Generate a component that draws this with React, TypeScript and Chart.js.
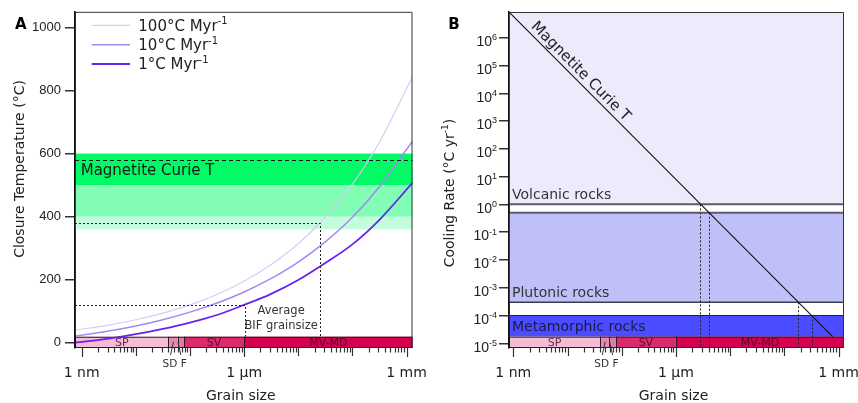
import React, { useEffect, useRef } from 'react';
import { Chart, registerables } from 'chart.js';

Chart.register(...registerables);

const FONT = '"DejaVu Sans", sans-serif';
const NUMFONT = '"Liberation Sans", Arial, sans-serif';

// ---------------- Panel A data ----------------
const grainSizeNm = [0.75, 3.16, 10, 31.6, 100, 316, 1000, 3162, 10000, 31623, 100000, 316228, 1300000];
const coolingRatesMyr = [100, 10, 1];
const closureT100 = [40, 56, 73, 94, 120, 153, 195, 248, 314, 398, 503, 636, 845];
const closureT10 = [21, 37, 53, 73, 97, 126, 161, 204, 256, 320, 398, 495, 640];
const closureT1 = [0, 13, 27, 44, 64, 88, 120, 155, 199, 253, 312, 390, 508];
const seriesColors = ['#d9cbf8', '#a688f2', '#6a22f0'];
const seriesWidths = [1.2, 1.5, 1.8];

const yTicksA = [0, 200, 400, 600, 800, 1000];
const yMinA = -16.7;
const yMaxA = 1049.6;
const xMinA = 0.752;
const xMaxA = 1.29e6;

const curieBandLow = [360, 400, 500];
const curieBandHigh = [400, 500, 600];
const curieBandColors = ['#c4fddc', '#82fdb5', '#00fb66'];
const curieTemp = 580;
const bifGrainNm = [1060, 25000];
const bifTemps = [120, 380];
const domainBarTopA = 19;

// ---------------- shared grain-size domains ----------------
const domainNames = ['SP', 'SD', 'F', 'SV', 'MV-MD'];
const domainUpperNm = [40, 59, 78, 1000];
const domainColors = ['#f4bdd5', '#e68ab4', '#e27aa9', '#dc2a6f', '#d5004f'];

const xDecades = [1, 10, 100, 1000, 10000, 100000, 1000000];
const xMinorMult = [2, 3, 4, 5, 6, 7, 8, 9];
const xLabelValues = [1, 1000, 1000000];
const xLabels = ['1 nm', '1 µm', '1 mm'];

// ---------------- Panel B data ----------------
const rateExponents = [-5, -4, -3, -2, -1, 0, 1, 2, 3, 4, 5, 6];
const yMinB = 6.76e-6;
const yMaxB = 8.41e6;
const xMinB = 0.833;
const xMaxB = 1.262e6;

const curieLineNm = [0.833, 780000];
const curieLineRate = [8.41e6, 1.73e-5];
const curieLabelNm = 13.4;

const rockNames = ['Volcanic rocks', 'Plutonic rocks', 'Metamorphic rocks'];
const rockLow = [1, 3e-4, 1.73e-5];
const rockHigh = [1e7, 0.5, 1e-4];
const rockColors = ['#ebebfc', '#c0c0f9', '#4b4bff'];
const rockTextColors = ['#333338', '#333338', '#1a1a48'];
const rockLineValues = [1, 0.5, 3e-4, 1e-4];
const rockLineColors = ['#5c5c6c', '#5c5c6c', '#3c3c4c', '#222228'];
const rockLineWidths = [2, 1.8, 1.4, 1];
const crossingNm = [2750, 4130, 178000, 325000];
const crossingRate = [1, 0.5, 3e-4, 1e-4];
const domainBarTopB = 1.73e-5;

// ---------------- helpers ----------------
type Seg = { t: string; sup?: boolean };

function drawRich(ctx: any, segs: Seg[], x: number, y: number, size: number, family: string, color: string, align: string) {
  const supSize = Math.round(size * 0.66);
  const base = `${size}px ${family}`;
  const sup = `${supSize}px ${family}`;
  let w = 0;
  segs.forEach((s) => {
    ctx.font = s.sup ? sup : base;
    w += ctx.measureText(s.t).width;
  });
  let cx = align === 'left' ? x : align === 'center' ? x - w / 2 : x - w;
  ctx.textAlign = 'left';
  ctx.textBaseline = 'alphabetic';
  ctx.fillStyle = color;
  segs.forEach((s) => {
    ctx.font = s.sup ? sup : base;
    ctx.fillText(s.t, cx, s.sup ? y - size * 0.42 : y);
    cx += ctx.measureText(s.t).width;
  });
}

function drawDomainBar(ctx: any, xs: any, ca: any, top: number) {
  const bottom = ca.bottom;
  const edges = [ca.left, ...domainUpperNm.map((v) => xs.getPixelForValue(v)), ca.right];
  ctx.save();
  for (let i = 0; i < domainNames.length; i++) {
    ctx.fillStyle = domainColors[i];
    ctx.fillRect(edges[i], top, edges[i + 1] - edges[i], bottom - top);
  }
  ctx.strokeStyle = '#2b1a22';
  ctx.lineWidth = 1;
  ctx.strokeRect(ca.left + 0.5, top + 0.5, ca.right - ca.left - 1, bottom - top - 1);
  for (let i = 1; i < edges.length - 1; i++) {
    const px = Math.round(edges[i]) + 0.5;
    ctx.beginPath();
    ctx.moveTo(px, top);
    ctx.lineTo(px, bottom);
    ctx.stroke();
  }
  ctx.font = `11px ${FONT}`;
  ctx.fillStyle = 'rgba(60,0,30,0.8)';
  ctx.textAlign = 'center';
  ctx.textBaseline = 'middle';
  [0, 3, 4].forEach((i) => {
    ctx.fillText(domainNames[i], (edges[i] + edges[i + 1]) / 2, (top + bottom) / 2 + 0.5);
  });
  const cSD = (edges[1] + edges[2]) / 2;
  const cF = (edges[2] + edges[3]) / 2;
  ctx.strokeStyle = '#333';
  ctx.beginPath();
  ctx.moveTo(cSD + 0.5, top + 5);
  ctx.lineTo(cSD - 2.5, bottom + 7);
  ctx.moveTo(cF - 3, top + 5);
  ctx.lineTo(cF, bottom + 7);
  ctx.stroke();
  ctx.fillStyle = '#333';
  ctx.font = `10.5px ${FONT}`;
  ctx.textBaseline = 'alphabetic';
  ctx.textAlign = 'right';
  ctx.fillText(domainNames[1], cSD + 4.3, 367);
  ctx.textAlign = 'left';
  ctx.fillText(domainNames[2], cF, 367);
  ctx.restore();
}

function drawXAxis(ctx: any, xs: any, ca: any) {
  ctx.save();
  ctx.strokeStyle = '#333';
  ctx.lineWidth = 1.2;
  const y0 = ca.bottom;
  const tick = (v: number, len: number) => {
    const px = Math.round(xs.getPixelForValue(v)) + 0.5;
    if (px < ca.left || px > ca.right) return;
    ctx.beginPath();
    ctx.moveTo(px, y0);
    ctx.lineTo(px, y0 + len);
    ctx.stroke();
  };
  xDecades.forEach((d) => {
    tick(d, xLabelValues.includes(d) ? 9 : 8);
    if (d < 1000000) xMinorMult.forEach((m) => tick(d * m, 4.5));
  });
  ctx.fillStyle = '#222';
  ctx.font = `14px ${FONT}`;
  ctx.textAlign = 'center';
  ctx.textBaseline = 'alphabetic';
  xLabelValues.forEach((v, i) => ctx.fillText(xLabels[i], xs.getPixelForValue(v), 377));
  ctx.fillText('Grain size', (ca.left + ca.right) / 2 - 3, 400);
  ctx.restore();
}

function drawFrame(ctx: any, ca: any) {
  ctx.save();
  ctx.strokeStyle = '#333';
  ctx.lineWidth = 1;
  ctx.beginPath();
  ctx.moveTo(ca.left, ca.top + 0.5);
  ctx.lineTo(ca.right - 0.5, ca.top + 0.5);
  ctx.lineTo(ca.right - 0.5, ca.bottom);
  ctx.stroke();
  ctx.strokeStyle = '#111';
  ctx.lineWidth = 1.5;
  ctx.beginPath();
  ctx.moveTo(ca.left, ca.top);
  ctx.lineTo(ca.left, ca.bottom);
  ctx.stroke();
  ctx.restore();
}

function drawVerticalTitle(ctx: any, segs: Seg[], cx: number, cy: number) {
  ctx.save();
  ctx.translate(cx, cy);
  ctx.rotate(-Math.PI / 2);
  drawRich(ctx, segs, 0, 5, 14, FONT, '#222', 'center');
  ctx.restore();
}

function drawPanelLetter(ctx: any, letter: string, x: number) {
  ctx.save();
  ctx.font = `bold 15px ${FONT}`;
  ctx.fillStyle = '#000';
  ctx.textAlign = 'left';
  ctx.textBaseline = 'alphabetic';
  ctx.fillText(letter, x, 28.5);
  ctx.restore();
}

// ---------------- Panel A plugin ----------------
const panelAPlugin = {
  id: 'panelA',
  beforeDatasetsDraw(chart: any) {
    const { ctx, chartArea: ca, scales } = chart;
    const xs = scales.x;
    const ys = scales.y;
    ctx.save();
    curieBandLow.forEach((lo, i) => {
      const t = ys.getPixelForValue(curieBandHigh[i]);
      const b = ys.getPixelForValue(lo);
      ctx.fillStyle = curieBandColors[i];
      ctx.fillRect(ca.left, t, ca.right - ca.left, b - t);
    });
    ctx.restore();
    drawDomainBar(ctx, xs, ca, ys.getPixelForValue(domainBarTopA));
  },
  afterDatasetsDraw(chart: any) {
    const { ctx, chartArea: ca, scales } = chart;
    const xs = scales.x;
    const ys = scales.y;
    const barTop = ys.getPixelForValue(domainBarTopA);
    ctx.save();
    ctx.strokeStyle = '#111';
    ctx.lineWidth = 1;
    ctx.setLineDash([4, 3]);
    const yc = Math.round(ys.getPixelForValue(curieTemp)) + 0.5;
    ctx.beginPath();
    ctx.moveTo(ca.left, yc);
    ctx.lineTo(ca.right, yc);
    ctx.stroke();
    ctx.strokeStyle = '#222';
    ctx.setLineDash([2, 2]);
    bifGrainNm.forEach((g, i) => {
      const px = Math.round(xs.getPixelForValue(g)) + 0.5;
      const py = Math.round(ys.getPixelForValue(bifTemps[i])) + 0.5;
      ctx.beginPath();
      ctx.moveTo(ca.left, py);
      ctx.lineTo(px, py);
      ctx.lineTo(px, barTop);
      ctx.stroke();
    });
    ctx.setLineDash([]);
    // Curie label
    ctx.fillStyle = '#1a1a1a';
    ctx.font = `15px ${FONT}`;
    ctx.textAlign = 'left';
    ctx.textBaseline = 'alphabetic';
    ctx.fillText('Magnetite Curie T', ca.left + 5.7, ys.getPixelForValue(curieBandHigh[2]) + 21);
    // BIF label
    const bx = (xs.getPixelForValue(bifGrainNm[0]) + xs.getPixelForValue(bifGrainNm[1])) / 2 - 1.5;
    ctx.fillStyle = '#333';
    ctx.font = `11.5px ${FONT}`;
    ctx.textAlign = 'center';
    ctx.fillText('Average', bx, 313.5);
    ctx.fillText('BIF grainsize', bx, 328.5);
    // legend
    chart.data.datasets.forEach((ds: any, i: number) => {
      const ly = 25.3 + i * 19.35;
      ctx.strokeStyle = ds.borderColor;
      ctx.lineWidth = ds.borderWidth;
      ctx.beginPath();
      ctx.moveTo(ca.left + 16.7, ly);
      ctx.lineTo(ca.left + 55, ly);
      ctx.stroke();
      drawRich(ctx, [{ t: `${coolingRatesMyr[i]}°C Myr` }, { t: '-1', sup: true }], ca.left + 63.3, ly + 5.4, 15, FONT, '#222', 'left');
    });
    ctx.restore();
  },
  afterDraw(chart: any) {
    const { ctx, chartArea: ca, scales } = chart;
    drawFrame(ctx, ca);
    drawXAxis(ctx, scales.x, ca);
    drawVerticalTitle(ctx, [{ t: 'Closure Temperature (°C)' }], 19, 169);
    drawPanelLetter(ctx, 'A', 15);
  },
};

// ---------------- Panel B plugin ----------------
const panelBPlugin = {
  id: 'panelB',
  beforeDatasetsDraw(chart: any) {
    const { ctx, chartArea: ca, scales } = chart;
    const xs = scales.x;
    const ys = scales.y;
    ctx.save();
    rockNames.forEach((_, i) => {
      const t = Math.max(ca.top, ys.getPixelForValue(rockHigh[i]));
      const b = ys.getPixelForValue(rockLow[i]);
      ctx.fillStyle = rockColors[i];
      ctx.fillRect(ca.left, t, ca.right - ca.left, b - t);
    });
    rockLineValues.forEach((v, i) => {
      const py = ys.getPixelForValue(v);
      ctx.strokeStyle = rockLineColors[i];
      ctx.lineWidth = rockLineWidths[i];
      ctx.beginPath();
      ctx.moveTo(ca.left, py);
      ctx.lineTo(ca.right, py);
      ctx.stroke();
    });
    ctx.restore();
    drawDomainBar(ctx, xs, ca, ys.getPixelForValue(domainBarTopB));
  },
  afterDatasetsDraw(chart: any) {
    const { ctx, chartArea: ca, scales } = chart;
    const xs = scales.x;
    const ys = scales.y;
    ctx.save();
    ctx.strokeStyle = '#222';
    ctx.lineWidth = 1;
    ctx.setLineDash([2, 2]);
    crossingNm.forEach((g, i) => {
      const px = Math.round(xs.getPixelForValue(g)) + 0.5;
      ctx.beginPath();
      ctx.moveTo(px, ys.getPixelForValue(crossingRate[i]));
      ctx.lineTo(px, ca.bottom);
      ctx.stroke();
    });
    ctx.setLineDash([]);
    ctx.font = `14px ${FONT}`;
    ctx.textAlign = 'left';
    ctx.textBaseline = 'alphabetic';
    rockNames.forEach((n, i) => {
      ctx.fillStyle = rockTextColors[i];
      ctx.fillText(n, ca.left + 3, ys.getPixelForValue(rockLow[i]) - 5.5);
    });
    // Curie line label
    const x1 = xs.getPixelForValue(curieLineNm[0]);
    const y1 = ys.getPixelForValue(curieLineRate[0]);
    const x2 = xs.getPixelForValue(curieLineNm[1]);
    const y2 = ys.getPixelForValue(curieLineRate[1]);
    const ang = Math.atan2(y2 - y1, x2 - x1);
    const px = xs.getPixelForValue(curieLabelNm);
    const py = y1 + ((px - x1) / (x2 - x1)) * (y2 - y1);
    const nx = Math.sin(ang);
    const ny = -Math.cos(ang);
    ctx.translate(px + nx * 8.5, py + ny * 8.5);
    ctx.rotate(ang);
    ctx.fillStyle = '#222';
    ctx.font = `15px ${FONT}`;
    ctx.textAlign = 'center';
    ctx.textBaseline = 'middle';
    ctx.fillText('Magnetite Curie T', 0, 0);
    ctx.restore();
  },
  afterDraw(chart: any) {
    const { ctx, chartArea: ca, scales } = chart;
    const ys = scales.y;
    drawFrame(ctx, ca);
    drawXAxis(ctx, scales.x, ca);
    ctx.save();
    rateExponents.forEach((e) => {
      const ty = ys.getPixelForValue(Math.pow(10, e));
      drawRich(ctx, [{ t: '10' }, { t: String(e), sup: true }], ca.left - 12, ty + 8.3, 14, NUMFONT, '#222', 'right');
    });
    ctx.restore();
    drawVerticalTitle(ctx, [{ t: 'Cooling Rate (°C yr' }, { t: '-1', sup: true }, { t: ')' }], 19.5, 193);
    drawPanelLetter(ctx, 'B', 19.3);
  },
};

function makeChartA(canvas: HTMLCanvasElement) {
  const series = [closureT100, closureT10, closureT1];
  const datasets = series.map((vals, i) => ({
    label: `${coolingRatesMyr[i]}°C Myr-1`,
    data: grainSizeNm.map((g, j) => ({ x: g, y: vals[j] })),
    borderColor: seriesColors[i],
    borderWidth: seriesWidths[i],
    pointRadius: 0,
    cubicInterpolationMode: 'monotone',
    fill: false,
  }));
  return new Chart(canvas, {
    type: 'line',
    data: { datasets } as any,
    options: {
      animation: false,
      responsive: false,
      devicePixelRatio: 1,
      layout: { padding: { left: 0, top: 11, right: 16.5, bottom: 55 } },
      scales: {
        x: { type: 'logarithmic', min: xMinA, max: xMaxA, display: false },
        y: {
          type: 'linear',
          min: yMinA,
          max: yMaxA,
          afterFit: (s: any) => {
            s.width = 75;
          },
          afterBuildTicks: (s: any) => {
            s.ticks = yTicksA.map((v) => ({ value: v }));
          },
          grid: { drawOnChartArea: false, tickLength: 10, color: '#333', lineWidth: 1.5 },
          border: { color: '#111', width: 1.5 },
          ticks: {
            padding: 4,
            color: '#222',
            font: { family: NUMFONT, size: 13 },
            callback: (v: any) => String(v),
          },
        },
      },
      plugins: { legend: { display: false }, tooltip: { enabled: false } },
    } as any,
    plugins: [panelAPlugin],
  });
}

function makeChartB(canvas: HTMLCanvasElement) {
  return new Chart(canvas, {
    type: 'line',
    data: {
      datasets: [
        {
          label: 'Magnetite Curie T',
          data: curieLineNm.map((g, i) => ({ x: g, y: curieLineRate[i] })),
          borderColor: '#111',
          borderWidth: 1.1,
          pointRadius: 0,
          fill: false,
        },
      ],
    } as any,
    options: {
      animation: false,
      responsive: false,
      devicePixelRatio: 1,
      layout: { padding: { left: 0, top: 12, right: 14, bottom: 55 } },
      scales: {
        x: { type: 'logarithmic', min: xMinB, max: xMaxB, display: false },
        y: {
          type: 'logarithmic',
          min: yMinB,
          max: yMaxB,
          afterFit: (s: any) => {
            s.width = 80;
          },
          afterBuildTicks: (s: any) => {
            s.ticks = rateExponents.map((e) => ({ value: Math.pow(10, e) }));
          },
          grid: { drawOnChartArea: false, tickLength: 10, color: '#333', lineWidth: 1.5 },
          border: { color: '#111', width: 1.5 },
          ticks: { display: false },
        },
      },
      plugins: { legend: { display: false }, tooltip: { enabled: false } },
    } as any,
    plugins: [panelBPlugin],
  });
}

export default function App() {
  const refA = useRef<HTMLCanvasElement>(null);
  const refB = useRef<HTMLCanvasElement>(null);
  useEffect(() => {
    const a = makeChartA(refA.current as HTMLCanvasElement);
    const b = makeChartB(refB.current as HTMLCanvasElement);
    return () => {
      a.destroy();
      b.destroy();
    };
  }, []);
  return (
    <div style={{ position: 'fixed', left: 0, top: 0, width: 858, height: 403, background: '#fff' }}>
      <canvas ref={refA} width={429} height={403} style={{ position: 'absolute', left: 0, top: 0, width: 429, height: 403 }} />
      <canvas ref={refB} width={429} height={403} style={{ position: 'absolute', left: 429, top: 0, width: 429, height: 403 }} />
    </div>
  );
}
